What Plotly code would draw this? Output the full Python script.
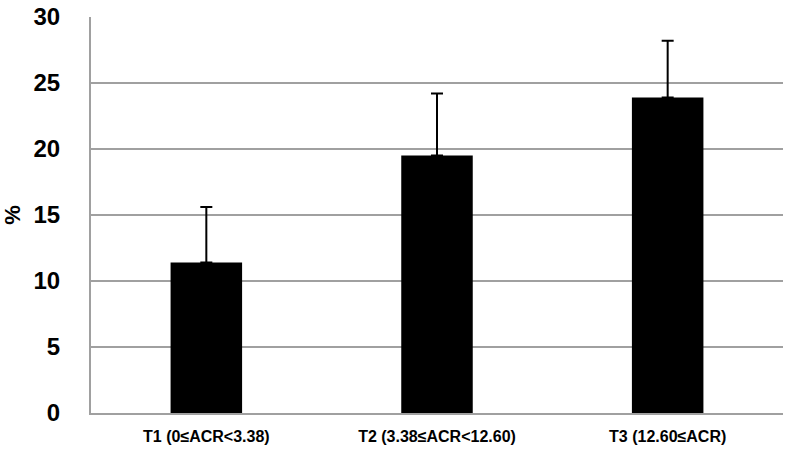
import plotly.graph_objects as go

# categories and values
categories = ["T1 (0≤ACR<3.38)", "T2 (3.38≤ACR<12.60)", "T3 (12.60≤ACR)"]
percent = [11.4, 19.5, 23.9]
err_upper = [4.2, 4.7, 4.3]
y_ticks = [0, 5, 10, 15, 20, 25, 30]

fig = go.Figure()

fig.add_trace(go.Bar(
    x=categories,
    y=percent,
    marker=dict(color="black", line=dict(width=0)),
    error_y=dict(
        type="data",
        symmetric=False,
        array=err_upper,
        arrayminus=[0] * len(err_upper),
        color="black",
        thickness=2,
        width=6,
    ),
))

fig.update_layout(
    width=793,
    height=461,
    margin=dict(l=91, r=10, t=17, b=48),
    plot_bgcolor="white",
    paper_bgcolor="white",
    bargap=0.69,
    showlegend=False,
    font=dict(family="Liberation Sans, Arial", color="black"),
)

fig.update_xaxes(
    automargin=False,
    showline=True,
    linecolor="#a0a0a0",
    linewidth=2,
    ticks="",
    tickfont=dict(family="Liberation Sans Narrow, Arial Narrow, Liberation Sans",
                  size=16, color="black", weight="bold"),
    ticklabelstandoff=8,
)

fig.update_yaxes(
    automargin=False,
    range=[0, 30],
    tickvals=y_ticks,
    showgrid=True,
    gridcolor="#a0a0a0",
    gridwidth=1.5,
    showline=True,
    linecolor="#a0a0a0",
    linewidth=2,
    zeroline=False,
    ticks="",
    ticklabelstandoff=24,
    ticklabeloverflow="allow",
    tickfont=dict(size=24, color="black", weight="bold"),
    title=dict(text="%", font=dict(size=22, weight="bold"), standoff=18),
)

# drop the page's default body margin so the figure sits at the window corner
fig.write_html("out.html", config={"displayModeBar": False},
               post_script="document.body.style.margin = '0';")
